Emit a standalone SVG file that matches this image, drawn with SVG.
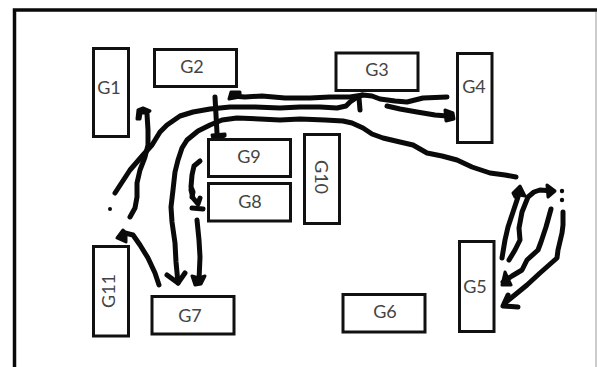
<svg xmlns="http://www.w3.org/2000/svg" width="597" height="367" viewBox="0 0 597 367">
<style>
.b{fill:#fff;stroke:#111;stroke-width:3}
.t{font-family:"Lato","Open Sans",sans-serif;font-size:18px;fill:#444;text-anchor:middle}
.s{fill:none;stroke:#0a0a0a;stroke-width:5;stroke-linecap:round;stroke-linejoin:round}
.h{fill:#0a0a0a;stroke:#0a0a0a;stroke-width:3;stroke-linejoin:round}
.f{fill:none;stroke:#0a0a0a;stroke-width:3.500}
</style>
<rect width="597" height="367" fill="#fff"/>
<g id="frame">
<path class="f" d="M14.500 367V10H597"/>
<path d="M596 12V367" stroke="#bbb" stroke-width="1.500" fill="none"/>
</g>
<g id="connectors">
<path class="s" d="M232 96L245 97L262 96L285 98L310 98L330 97L350 97L363 95L372 96L380 99L395 101L407 102L423 98L447 97"/>
<path class="h" d="M229 99L231 92L240 92L240 97Z"/>
<path class="s" d="M115 193L130 170L143 155L152 145L160 132L167 125L180 116L193 112L210 109L230 107L255 107L280 108L300 107L320 107L337 108L346 106L350 102L356 98L362 95"/>
<path class="s" d="M359 98L360 110"/>
<path class="s" d="M387 106L400 109L417 112L435 115L447 116"/>
<path class="h" d="M445 110L453 113L454 119L446 121Z"/>
<path class="s" d="M130 217L135 208L137 197L137 183L140 170L145 157L148 145L148 130L147 114"/>
<path class="h" d="M137 119L138 110L143 108L150 111L147 113L141 113L140 119Z"/>
<path class="s" d="M178 283L176 262L175 243L172 222L171 207L173 190L175 172L178 160L182 148L187 140L198 131L210 125L222 120L237 118L260 119L280 120L300 119L325 120L343 121L352 123L363 128L372 134L383 138L400 142L413 145L427 153L442 156L457 160L472 167L490 173L505 175L516 177"/>
<path class="s" d="M167 275L178 283L185 273"/>
<path class="s" d="M215 97L216 115L217 133"/>
<path class="h" d="M212 135L225 134L225 136L219 139L213 139Z"/>
<path class="s" d="M200 161L194 166L192 175L191 187L193 192L192 197"/>
<path class="s" d="M191 190L193 198L198 204L200 198"/>
<path class="s" d="M192 208L203 209"/>
<path class="s" d="M197 220L199 240L200 257L199 280"/>
<path class="h" d="M192 276L199 278L205 276L201 284L195 285Z"/>
<path class="s" d="M159 285L155 273L148 258L140 245L133 235L125 233"/>
<path class="h" d="M117 238L123 230L126 233L126 242Z"/>
<path class="s" d="M502 258L505 240L508 227L513 212L518 197"/>
<path class="h" d="M513 193L520 186L525 196L519 195L515 197Z"/>
<path class="s" d="M509 260L515 250L520 240L519 228L522 212L528 197L534 192L540 190L553 191"/>
<path class="h" d="M547 185L555 191L548 197Z"/>
<path class="s" d="M551 209L546 227L541 242L538 250L527 260L522 270L512 276L503 282"/>
<path class="h" d="M502 285L505 272L511 285Z"/>
<path class="s" d="M563 212L563 225L562 233L558 250L557 258L540 273L527 285L516 294L505 303"/>
<path class="s" d="M508 295L503 306L518 307"/>
</g>
<g id="marks" fill="#0a0a0a">
<circle cx="110" cy="209" r="2"/>
<circle cx="562" cy="191" r="2.200"/>
<circle cx="562" cy="200" r="2.200"/>
</g>
<g id="G1"><rect class="b" x="93.500" y="48.500" width="35" height="88"/><text class="t" x="109" y="94">G1</text></g>
<g id="G2"><rect class="b" x="154.500" y="49.500" width="82" height="37"/><text class="t" x="192" y="73">G2</text></g>
<g id="G3"><rect class="b" x="336" y="53" width="82" height="37.500"/><text class="t" x="377" y="76">G3</text></g>
<g id="G4"><rect class="b" x="457.500" y="53.500" width="34.500" height="89"/><text class="t" x="474" y="93">G4</text></g>
<g id="G5"><rect class="b" x="459.500" y="241.500" width="34.500" height="90"/><text class="t" x="475" y="293">G5</text></g>
<g id="G6"><rect class="b" x="343" y="294.500" width="82" height="37.500"/><text class="t" x="385" y="318">G6</text></g>
<g id="G7"><rect class="b" x="152" y="296.500" width="82" height="37.500"/><text class="t" x="190" y="322">G7</text></g>
<g id="G8"><rect class="b" x="208.500" y="183.500" width="82" height="37.500"/><text class="t" x="250" y="208">G8</text></g>
<g id="G9"><rect class="b" x="208.500" y="139.500" width="82" height="37"/><text class="t" x="249" y="163">G9</text></g>
<g id="G10"><rect class="b" x="304.500" y="134.500" width="35" height="89"/><text class="t" transform="translate(315 177) rotate(90)">G10</text></g>
<g id="G11"><rect class="b" x="93.500" y="246.500" width="35" height="89.500"/><text class="t" transform="translate(115 291) rotate(-90)">G11</text></g>
</svg>
